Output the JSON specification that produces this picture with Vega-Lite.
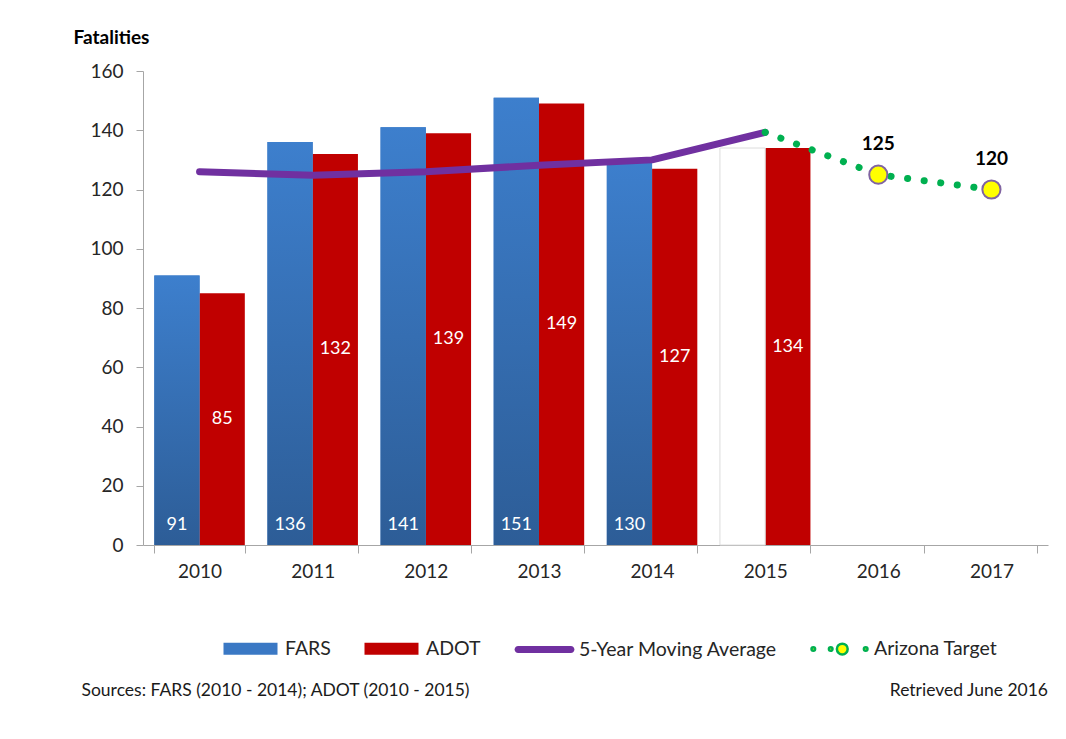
{
  "$schema": "https://vega.github.io/schema/vega-lite/v6.json",
  "width": 905,
  "height": 474,
  "autosize": {"type": "none"},
  "padding": {"left": 143, "top": 71, "right": 18, "bottom": 194},
  "background": "white",
  "config": {
    "font": "Lato",
    "view": {"stroke": null},
    "axis": {"domainColor": "#a6a6a6", "tickColor": "#a6a6a6", "labelFont": "Lato", "titleFont": "Lato", "grid": false}
  },
  "datasets": {
    "bars": [
      {"year": "2010", "series": "FARS", "value": 91},
      {"year": "2011", "series": "FARS", "value": 136},
      {"year": "2012", "series": "FARS", "value": 141},
      {"year": "2013", "series": "FARS", "value": 151},
      {"year": "2014", "series": "FARS", "value": 130},
      {"year": "2010", "series": "ADOT", "value": 85},
      {"year": "2011", "series": "ADOT", "value": 132},
      {"year": "2012", "series": "ADOT", "value": 139},
      {"year": "2013", "series": "ADOT", "value": 149},
      {"year": "2014", "series": "ADOT", "value": 127},
      {"year": "2015", "series": "ADOT", "value": 134}
    ],
    "blank": [{"year": "2015", "series": "FARS", "value": 134}],
    "ma": [
      {"year": "2010", "value": 126},
      {"year": "2011", "value": 124.8},
      {"year": "2012", "value": 126},
      {"year": "2013", "value": 128.2},
      {"year": "2014", "value": 130},
      {"year": "2015", "value": 139.3}
    ],
    "target": [
      {"year": "2015", "value": 139.3},
      {"year": "2016", "value": 125},
      {"year": "2017", "value": 120}
    ],
    "targetPts": [
      {"year": "2016", "value": 125},
      {"year": "2017", "value": 120}
    ]
  },
  "title": {
    "text": "Retrieved June 2016",
    "orient": "bottom",
    "anchor": "end",
    "frame": "group",
    "font": "Lato",
    "fontSize": 17.5,
    "fontWeight": "normal",
    "color": "#1a1a1a",
    "offset": 0,
    "dy": -17
  },
  "encoding": {
    "x": {
      "field": "year",
      "type": "nominal",
      "scale": {"domain": ["2010", "2011", "2012", "2013", "2014", "2015", "2016", "2017"], "paddingInner": 0.2, "paddingOuter": 0.1},
      "title": "Sources: FARS (2010 - 2014); ADOT (2010 - 2015)",
      "axis": {
        "labelAngle": 0,
        "tickBand": "extent",
        "tickSize": 8,
        "labelPadding": 9,
        "labelFontSize": 19,
        "labelColor": "#262626",
        "titleX": -62,
        "titleY": 145,
        "titleAlign": "left",
        "titleBaseline": "middle",
        "titleFontSize": 17.5,
        "titleFontWeight": "normal",
        "titleColor": "#1a1a1a"
      }
    }
  },
  "layer": [
    {
      "encoding": {
        "y": {
          "field": "value",
          "type": "quantitative",
          "scale": {"domain": [0, 160], "nice": false},
          "title": "Fatalities",
          "axis": {
            "values": [0, 20, 40, 60, 80, 100, 120, 140, 160],
            "tickSize": 7,
            "labelPadding": 13,
            "labelFontSize": 19,
            "labelColor": "#262626",
            "titleAngle": 0,
            "titleX": -70,
            "titleY": -34,
            "titleAlign": "left",
            "titleBaseline": "middle",
            "titleFontSize": 19,
            "titleFontWeight": "bold",
            "titleColor": "#000000"
          }
        }
      },
      "layer": [
        {
          "data": {"name": "bars"},
          "mark": {"type": "bar"},
          "encoding": {
            "xOffset": {"field": "series", "type": "nominal", "scale": {"domain": ["FARS", "ADOT"], "paddingInner": 0, "paddingOuter": 0}},
            "color": {
              "field": "series",
              "type": "nominal",
              "scale": {"domain": ["FARS", "ADOT", "5-Year Moving Average", "Arizona Target"], "range": ["#3a78c4", "#c00000", "#7030a0", "#ffff00"]},
              "legend": {
                "title": null,
                "orient": "none",
                "direction": "horizontal",
                "legendX": 76,
                "legendY": 546,
                "symbolSize": 3600,
                "symbolStrokeWidth": 2.5,
                "symbolStrokeColor": {"expr": "datum.value === 'Arizona Target' ? '#00b050' : 'transparent'"},
                "symbolType": {"expr": "datum.value === 'Arizona Target' ? 'M-0.933,0a0.06,0.06 0 1,0 0.12,0a0.06,0.06 0 1,0 -0.12,0ZM-0.353,0a0.06,0.06 0 1,0 0.12,0a0.06,0.06 0 1,0 -0.12,0ZM0.813,0a0.06,0.06 0 1,0 0.12,0a0.06,0.06 0 1,0 -0.12,0ZM-0.087,0a0.18,0.18 0 1,0 0.36,0a0.18,0.18 0 1,0 -0.36,0Z' : datum.value === '5-Year Moving Average' ? 'M-0.88,-0.117H0.88A0.117,0.117 0 0 1 0.88,0.117H-0.88A0.117,0.117 0 0 1 -0.88,-0.117Z' : 'M-0.9,-0.2H0.9V0.2H-0.9Z'"},
                "labelFont": "Lato",
                "labelFontSize": 19.5,
                "labelColor": "#262626",
                "labelOffset": 3,
                "labelLimit": 400,
                "columnPadding": 28
              }
            }
          }
        },
        {
          "data": {"name": "blank"},
          "mark": {"type": "bar", "color": "#ffffff", "stroke": "#dcdcdc", "strokeWidth": 1},
          "encoding": {
            "xOffset": {"field": "series", "type": "nominal", "scale": {"domain": ["FARS", "ADOT"]}}
          }
        },
        {
          "data": {"name": "bars"},
          "transform": [{"filter": "datum.series === 'FARS'"}],
          "mark": {
            "type": "bar",
            "color": {
              "gradient": "linear",
              "x1": 0, "y1": 0, "x2": 0, "y2": 1,
              "stops": [
                {"offset": 0, "color": "#3d7fcd"},
                {"offset": 1, "color": "#2d5d97"}
              ]
            }
          },
          "encoding": {
            "xOffset": {"field": "series", "type": "nominal", "scale": {"domain": ["FARS", "ADOT"]}}
          }
        },
        {
          "data": {"name": "ma"},
          "mark": {"type": "line", "color": "#7030a0", "strokeWidth": 7, "strokeCap": "round", "strokeJoin": "round"}
        },
        {
          "data": {"name": "target"},
          "mark": {"type": "line", "color": "#00b050", "strokeWidth": 7, "strokeCap": "round", "strokeDash": [0.1, 16.6]}
        },
        {
          "data": {"name": "targetPts"},
          "mark": {"type": "point", "filled": true, "fill": "#ffff00", "stroke": "#8064a2", "strokeWidth": 2, "size": 330, "opacity": 1}
        },
        {
          "data": {"name": "targetPts"},
          "mark": {"type": "text", "font": "Lato", "fontSize": 19, "fontWeight": "bold", "color": "#000000", "baseline": "alphabetic", "dy": -25},
          "encoding": {"text": {"field": "value", "type": "quantitative"}}
        }
      ]
    },
    {
      "data": {"name": "bars"},
      "encoding": {
        "xOffset": {"field": "series", "type": "nominal", "scale": {"domain": ["FARS", "ADOT"]}},
        "text": {"field": "value", "type": "quantitative"}
      },
      "layer": [
        {
          "transform": [{"filter": "datum.series === 'ADOT'"}],
          "mark": {"type": "text", "font": "Lato", "fontSize": 18, "color": "#ffffff", "baseline": "middle"},
          "encoding": {
            "y": {"field": "value", "type": "quantitative", "scale": {"domain": [0, 320], "nice": false}, "axis": null}
          }
        },
        {
          "transform": [{"filter": "datum.series === 'FARS'"}],
          "mark": {"type": "text", "font": "Lato", "fontSize": 18, "color": "#ffffff", "baseline": "alphabetic", "dy": -15},
          "encoding": {
            "y": {"datum": 0, "type": "quantitative", "scale": {"domain": [0, 320], "nice": false}, "axis": null}
          }
        }
      ]
    }
  ],
  "resolve": {"scale": {"y": "independent"}}
}
